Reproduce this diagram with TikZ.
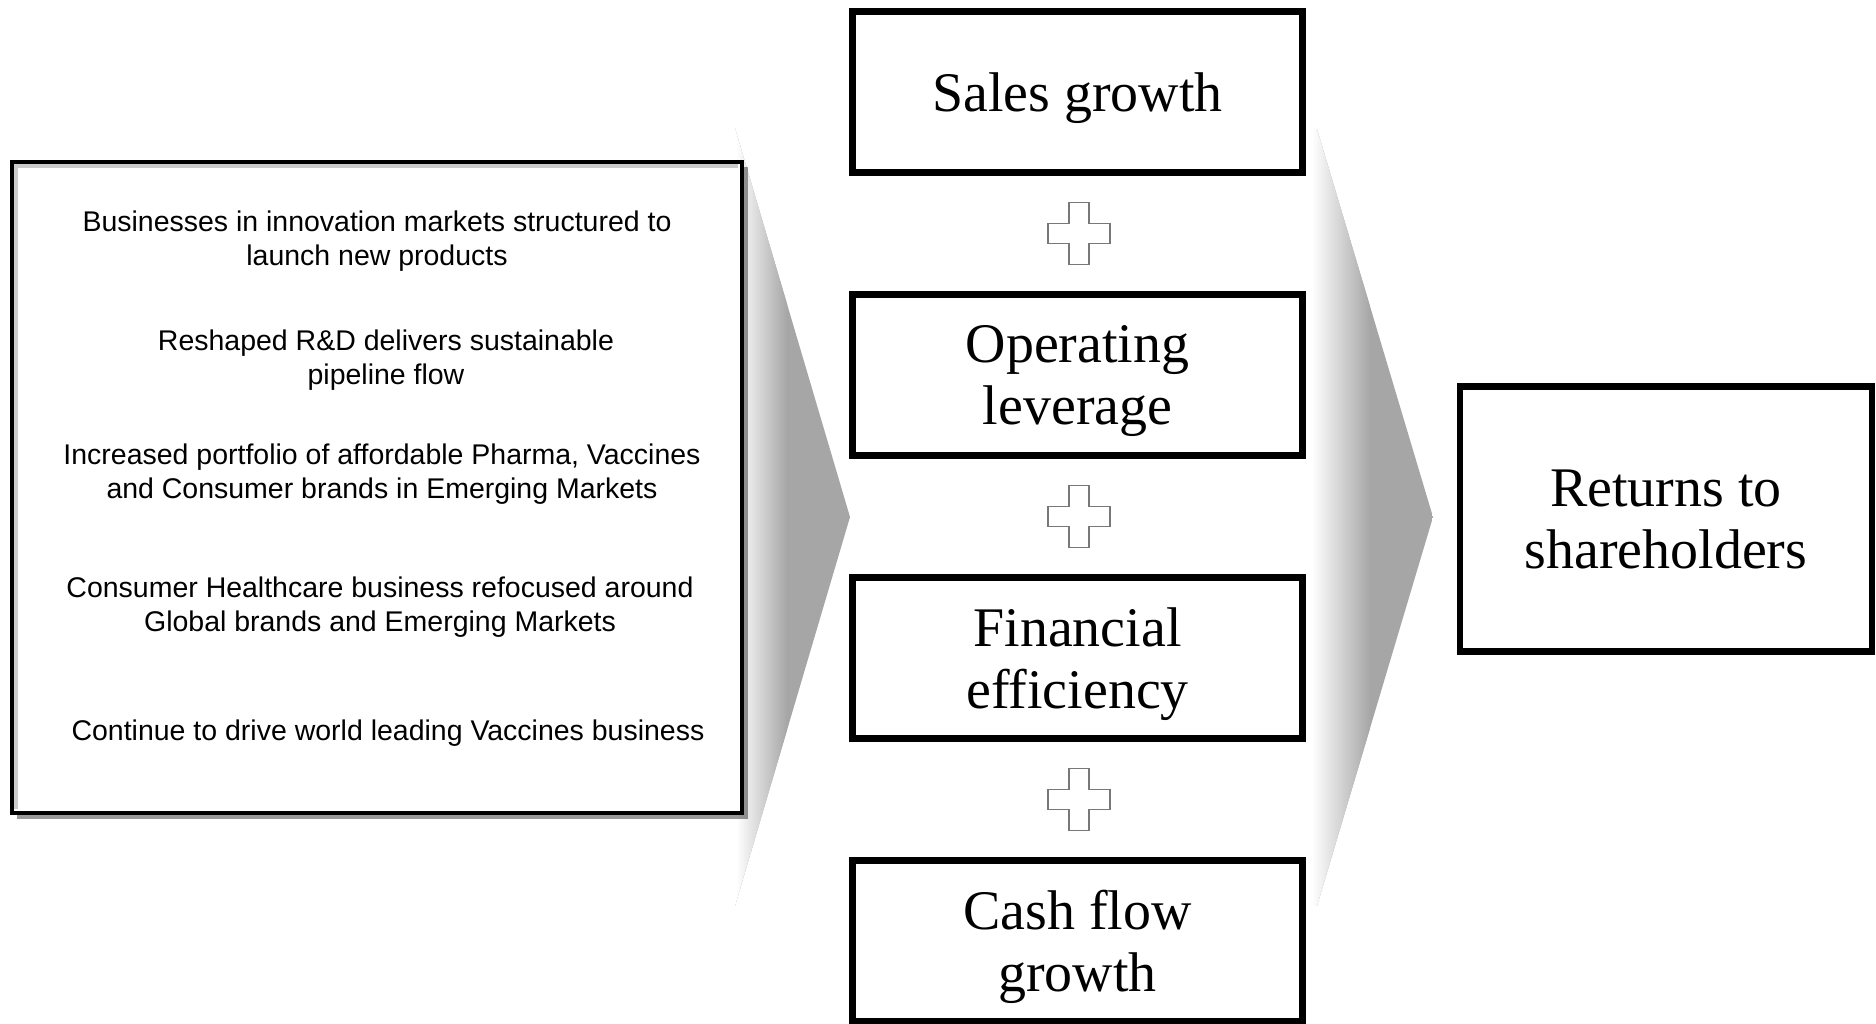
\documentclass[tikz,border=0pt]{standalone}
\usepackage{fontspec}
\setmainfont{Liberation Serif}
\newfontfamily\driverfont{Liberation Sans}
\usetikzlibrary{shadows}

\definecolor{chevgray}{RGB}{166,166,166}
\definecolor{plusgray}{RGB}{120,120,120}

\tikzset{
    bigbox/.style={draw=black, line width=2pt, fill=white, inner sep=0pt,
        minimum width=4.49cm, minimum height=1.6cm, align=center, text depth=0pt,
        font=\fontsize{15.9}{17.6}\selectfont},
    driverbox/.style={draw=black, line width=1pt, fill=white, inner sep=0pt,
        minimum width=7.3cm, minimum height=6.51cm,
        drop shadow={shadow xshift=1.6pt, shadow yshift=-1.6pt, opacity=0.4, fill=black}},
    driver/.style={align=center, inner sep=0pt, font=\driverfont\fontsize{8.1}{9.7}\selectfont},
    plusline/.style={draw=plusgray, line width=0.4pt, fill=white}
}

\begin{document}
\begin{tikzpicture}[x=0.01cm, y=-0.01cm]
            \useasboundingbox (0,0) rectangle (1876,1023);

            \begin{scope}
                \clip (560,128) -- (735,128) -- (850,517) -- (735,906) -- (560,906) -- cycle;
                \fill[chevgray] (560,128) rectangle (850,906);
                \shade[left color=white, right color=chevgray] (736,128) rectangle (787,906);
                \fill[white] (560,128) rectangle (736,906);
            \end{scope}
            \begin{scope}
                \clip (1200,129) -- (1317,129) -- (1433,517) -- (1317,906) -- (1200,906) -- cycle;
                \fill[chevgray] (1200,129) rectangle (1433,906);
                \shade[left color=white, right color=chevgray] (1312,129) rectangle (1370,906);
                \fill[white] (1200,129) rectangle (1312,906);
            \end{scope}

            \node[driverbox] (drivers) at (377,487.5) {};
            \draw[gray!40, line width=1pt] (16,809) -- (16,166) -- (738,166);

            \node[driver] (d1) at (377,241) {Businesses in innovation markets structured to\\launch new products};
            \node[driver] (d2) at (386,360) {Reshaped R\&D delivers sustainable\\pipeline flow};
            \node[driver] (d3) at (382,474) {Increased portfolio of affordable Pharma, Vaccines\\and Consumer brands in Emerging Markets};
            \node[driver] (d4) at (380,607) {Consumer Healthcare business refocused around\\Global brands and Emerging Markets};
            \node[driver] (d5) at (388,733) {Continue to drive world leading Vaccines business};

            \node[bigbox] (sales) at (1077.5,92) {Sales growth};
            \node[bigbox] (oplev) at (1077.5,375) {Operating\\leverage};
            \node[bigbox] (fineff) at (1077.5,658) {Financial\\efficiency};
            \node[bigbox] (cashflow) at (1077.5,941) {Cash flow\\growth};

            \foreach \y in {233.5,516.5,799.5}
                \draw[plusline] (1079,\y) ++(-10,-31) -- ++(20,0) -- ++(0,21) -- ++(21,0) -- ++(0,20)
                    -- ++(-21,0) -- ++(0,21) -- ++(-20,0) -- ++(0,-21) -- ++(-21,0) -- ++(0,-20) -- ++(21,0) -- cycle;

            \node[bigbox, line width=1.8pt, minimum width=4.12cm, minimum height=2.65cm, text depth=] (returns) at (1666,519) {Returns to\\shareholders};
        \end{tikzpicture}
\end{document}
